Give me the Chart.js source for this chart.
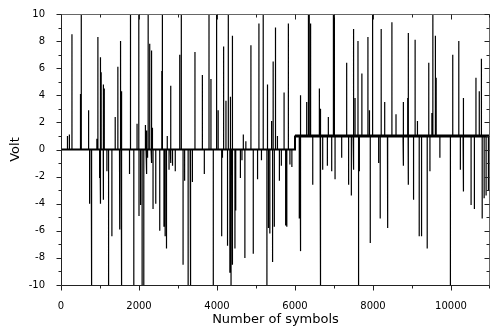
<!DOCTYPE html>
<html>
<head>
<meta charset="utf-8">
<script src="https://cdn.jsdelivr.net/npm/chart.js@4.4.1/dist/chart.umd.min.js"></script>
<style>
html,body{margin:0;padding:0;background:#fff}
#wrap{width:490px;height:329px}
</style>
</head>
<body>
<div id="wrap"><canvas id="graph"></canvas></div>
<script>
//Daten
const stepAt = 6000;
const levelBefore = 0;
const levelAfter = 1;

const xTickValues = [0, 2000, 4000, 6000, 8000, 10000];
const yTickValues = [-10, -8, -6, -4, -2, 0, 2, 4, 6, 8, 10];

const spikeX = [
  166, 215, 281, 500, 520, 708, 733, 776, 790, 920, 946, 990, 1000, 1020, 1030, 1083, 1090, 1110,
  1177, 1220, 1305, 1390, 1458, 1500, 1510, 1527, 1543, 1560, 1757, 1770, 1790, 1867, 1950, 1995,
  2000, 2040, 2080, 2123, 2165, 2180, 2205, 2220, 2235, 2275, 2310, 2330, 2345, 2360, 2430, 2532,
  2585, 2600, 2640, 2670, 2705, 2725, 2770, 2805, 2820, 2860, 2930, 3045, 3085, 3130, 3170, 3260,
  3310, 3330, 3370, 3435, 3625, 3675, 3795, 3845, 3905, 3990, 4030, 4120, 4140, 4170, 4230, 4270,
  4290, 4330, 4345, 4360, 4390, 4400, 4460, 4480, 4600, 4640, 4675, 4715, 4740, 4870, 4930, 5040,
  5075, 5140, 5185, 5280, 5295, 5320, 5355, 5400, 5425, 5440, 5470, 5500, 5550, 5600, 5650, 5720,
  5760, 5790, 5830, 5870, 5920,
  6110, 6130, 6150, 6300, 6345, 6365, 6400, 6455, 6625, 6645, 6660, 6710, 6830, 6855, 6941, 6985,
  7010, 7027, 7197, 7325, 7375, 7445, 7490, 7510, 7540, 7615, 7630, 7650, 7715, 7870, 7910, 7930,
  7990, 8145, 8185, 8210, 8300, 8370, 8380, 8485, 8590, 8770, 8785, 8890, 8900, 8910, 9040, 9080,
  9140, 9185, 9245, 9390, 9430, 9460, 9510, 9535, 9600, 9620, 9715, 9985, 10045, 10200, 10240,
  10310, 10325, 10515, 10600, 10640, 10725, 10780, 10800, 10850, 10900, 10960
];
const spikeY = [
  1.0, 1.1, 8.5, 4.1, 10, 2.9, -4.0, -7.6, -10, 0.8, 8.3, -2.1, 6.8, -4.0, 5.7, 4.8, -3.7, 4.5,
  -1.6, -10, -6.4, 2.4, 6.1, -5.9, -2.4, 8.0, -10, 4.3, -1.8, 4.2, 10, -10, 1.9, 10,
  -4.9, -4.1, -10, -10, 1.8, -1.8, 1.4, -0.6, 10, 7.8, -1.0, 7.3, 1.6, -4.4, -4.0, -6.0,
  5.8, 10, -5.7, -6.4, -7.3, 1.0, -1.5, 4.7, -1.0, -1.2, -1.6, 7.0, 10, -8.5, -2.3, -10,
  -10, -4.3, -2.4, 7.2, 5.5, -1.8, 10, 5.2, -10, 10, 2.9, -6.4, -0.6, 7.6, 3.6, -7.1,
  10, -9.1, 3.9, -10, 8.4, -8.5, -7.3, -4.5, -2.1, -0.8, 1.1, -8.0, 0.6, 7.7, -7.7, -2.2,
  9.3, -0.8, 10, -10, 4.8, -5.8, -6.2, 2.1, -8.3, 6.5, -5.7, 9.0, 1.0, -2.3, -1.2, 4.2,
  -5.6, -5.7, 9.3, -1.1, -1.3,
  -5.1, 4.0, -7.5, 3.5, 10, 10, 9.3, -2.6, 4.5, -10, 3.0, -1.5, -1.2, 2.4, -1.6, 10,
  10, -2.2, -0.6, 6.4, -2.6, -3.4, -1.5, 8.9, 3.8, 8.0, -10, -1.6, 5.6, 8.3, 2.9, -6.9,
  10, -1.0, -5.1, 8.9, 3.5, -0.4, -5.8, 9.4, 2.6, -1.2, 3.5, 3.8, -2.6, 8.6, -3.7, 8.1,
  2.1, -6.4, -6.4, -7.3, 6.4, -1.6, 2.7, 10, 8.4, 5.3, -0.6, -10, 7.0, 8.0, -1.5,
  3.8, -3.1, -4.1, -4.4, 5.3, 4.3, 6.7, -5.1, -3.6, -3.4, -3.0
];

const xMin = 0, xMax = 11000, xMinor = 1000;
const yMin = -10, yMax = 10, yMinor = 1;

function baseAt(x) {
  return x < stepAt ? levelBefore : levelAfter;
}

function buildTrace() {
  var pts = [{x: xMin, y: levelBefore}];
  var stepped = false;
  for (var i = 0; i < spikeX.length; i++) {
    if (!stepped && spikeX[i] >= stepAt) {
      pts.push({x: stepAt, y: levelBefore}, {x: stepAt, y: levelAfter});
      stepped = true;
    }
    var b = baseAt(spikeX[i]);
    pts.push({x: spikeX[i], y: b}, {x: spikeX[i], y: spikeY[i]}, {x: spikeX[i], y: b});
  }
  pts.push({x: xMax, y: levelAfter});
  return pts;
}

const baseline = [
  {x: xMin, y: levelBefore}, {x: stepAt, y: levelBefore},
  {x: stepAt, y: levelAfter}, {x: xMax, y: levelAfter}
];

// Rahmen und Striche (unten/links nach aussen, oben/rechts nach innen)
const frameTicks = {
  id: 'frameTicks',
  afterDraw(chart) {
    const ctx = chart.ctx;
    const a = chart.chartArea;
    const sx = chart.scales.x, sy = chart.scales.y;
    const L = Math.round(a.left) + 0.5, R = Math.round(a.right) - 0.5;
    const T = Math.round(a.top) + 0.5, B = Math.round(a.bottom) + 0.5;
    ctx.save();
    ctx.lineWidth = 1;
    ctx.strokeStyle = '#222';
    ctx.beginPath();
    ctx.moveTo(L, T); ctx.lineTo(L, B); ctx.lineTo(R, B);
    ctx.stroke();
    ctx.strokeStyle = '#666';
    ctx.beginPath();
    ctx.moveTo(L, T); ctx.lineTo(R, T); ctx.lineTo(R, B);
    ctx.stroke();
    ctx.strokeStyle = '#222';
    ctx.beginPath();
    for (var v = xMin; v <= xMax; v += xMinor) {
      var len = xTickValues.indexOf(v) >= 0 ? 5 : 3;
      var px = Math.round(sx.getPixelForValue(v)) + 0.5;
      if (px > R) px = R;
      ctx.moveTo(px, B); ctx.lineTo(px, B + len);
      ctx.moveTo(px, T); ctx.lineTo(px, T + len);
    }
    for (var w = yMin; w <= yMax; w += yMinor) {
      var len2 = yTickValues.indexOf(w) >= 0 ? 5 : 3;
      var py = Math.round(sy.getPixelForValue(w)) + 0.5;
      ctx.moveTo(L - len2, py); ctx.lineTo(L, py);
      ctx.moveTo(R - len2, py); ctx.lineTo(R, py);
    }
    ctx.stroke();
    ctx.restore();
  }
};

const tickFont = {family: "'DejaVu Sans', sans-serif", size: 10};
const titleFont = {family: "'DejaVu Sans', sans-serif", size: 13};

window.onload = function () {
  var ctx = document.getElementById('graph').getContext('2d');
  window.graphVolt = new Chart(ctx, {
    type: 'line',
    data: {
      datasets: [
        {
          data: buildTrace(),
          borderColor: '#000',
          borderWidth: 1.2,
          pointRadius: 0,
          tension: 0,
          fill: false
        },
        {
          data: baseline,
          borderColor: '#000',
          pointRadius: 0,
          tension: 0,
          fill: false,
          borderWidth: 2,
          segment: {
            borderWidth: c => (c.p0.parsed.y >= levelAfter && c.p1.parsed.y >= levelAfter ? 3 : 2)
          }
        }
      ]
    },
    options: {
      responsive: true,
      maintainAspectRatio: false,
      animation: false,
      layout: {padding: {left: 0, right: 0, top: 10, bottom: 0}},
      plugins: {legend: {display: false}, tooltip: {enabled: false}},
      scales: {
        x: {
          type: 'linear',
          min: xMin,
          max: xMax,
          grid: {display: false},
          border: {display: false},
          afterBuildTicks: s => { s.ticks = xTickValues.map(v => ({value: v})); },
          ticks: {color: '#000', font: tickFont, padding: 7, maxRotation: 0, autoSkip: false,
            callback: v => String(v)},
          title: {display: true, text: 'Number of symbols', color: '#000', font: titleFont, padding: {top: 0, bottom: 2}},
          afterFit: s => { s.height = 44; }
        },
        y: {
          min: yMin,
          max: yMax,
          grid: {display: false},
          border: {display: false},
          afterBuildTicks: s => { s.ticks = yTickValues.map(v => ({value: v})); },
          ticks: {color: '#000', font: tickFont, padding: 8, autoSkip: false, callback: v => String(v)},
          title: {display: true, text: 'Volt', color: '#000', font: titleFont, padding: {top: 8, bottom: 0}},
          afterFit: s => { s.width = 61; }
        }
      }
    },
    plugins: [frameTicks]
  });
};
</script>
</body>
</html>
